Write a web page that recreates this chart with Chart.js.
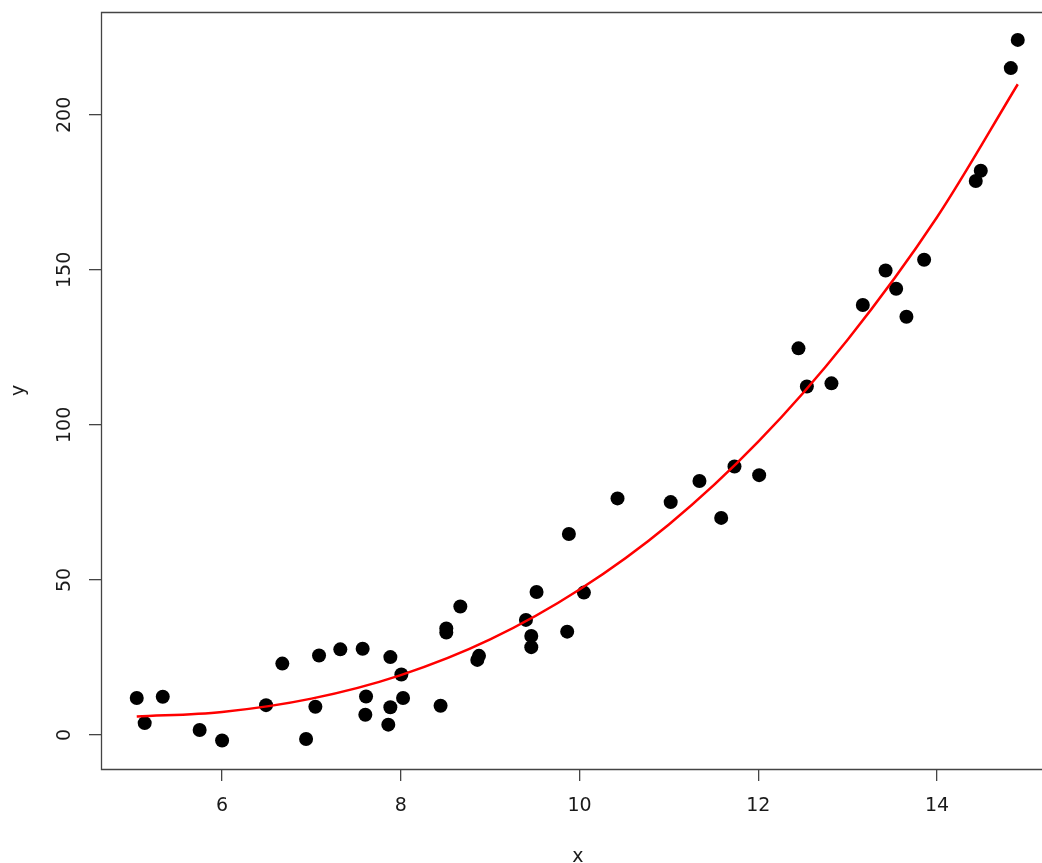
<!DOCTYPE html>
<html>
<head>
<meta charset="utf-8">
<script src="https://cdn.jsdelivr.net/npm/chart.js@4"></script>
<style>
html,body{margin:0;padding:0;background:#fff;overflow:hidden;width:1042px;height:863px;}
canvas{display:block;}
</style>
</head>
<body>
<canvas id="c" width="1062" height="863"></canvas>
<script>
// Observed points
const xValues = [5.045,5.134,5.336,5.749,6.000,6.492,6.674,6.940,7.044,7.085,
  7.323,7.573,7.611,7.603,7.860,7.883,7.883,8.006,8.025,8.445,
  8.509,8.509,8.666,8.856,8.875,9.400,9.460,9.460,9.519,9.862,
  9.881,10.049,10.425,11.020,11.342,11.585,11.734,12.010,12.450,12.544,
  12.819,13.170,13.425,13.543,13.658,13.856,14.434,14.490,14.826,14.904];
const yValues = [11.9,3.8,12.3,1.6,-1.8,9.6,23.0,-1.3,9.1,25.6,
  27.6,27.8,12.4,6.5,3.3,25.1,8.9,19.5,11.9,9.4,
  34.3,33.0,41.4,24.2,25.5,37.1,31.9,28.3,46.1,33.3,
  64.8,45.9,76.3,75.1,81.9,70.0,86.6,83.8,124.7,112.4,
  113.4,138.7,149.8,143.9,134.9,153.3,178.7,182.0,215.1,224.2];
// Fitted curve
const curveX = [5.045,6,7,8,9,10,11,12,13,14,14.904];
const curveY = [5.9,7.4,11.7,19.3,30.8,46.9,67.9,94.6,127.5,167.0,209.9];
// Tick labels
const xTicks = [6,8,10,12,14];
const yTicks = [0,50,100,150,200];
const xTitle = 'x';
const yTitle = 'y';

const FONT = '"DejaVu Sans", sans-serif';
const TXT = '#1a1a1a';
const AX = '#444';

const points = xValues.map((x,i)=>({x, y:yValues[i]}));
const curve = curveX.map((x,i)=>({x, y:curveY[i]}));

const framePlugin = {
  id:'frame',
  beforeDatasetsDraw(chart){
    const {ctx, chartArea:a} = chart;
    ctx.save();
    ctx.strokeStyle = AX;
    ctx.lineWidth = 1.3;
    ctx.beginPath();
    ctx.moveTo(a.right+4, a.top+0.5);
    ctx.lineTo(a.left+0.5, a.top+0.5);
    ctx.lineTo(a.left+0.5, a.bottom+0.5);
    ctx.lineTo(a.right+4, a.bottom+0.5);
    ctx.stroke();
    ctx.restore();
  },
  afterDraw(chart){
    const {ctx} = chart;
    const ys = chart.scales.y;
    ctx.save();
    ctx.fillStyle = TXT;
    ctx.font = '19px ' + FONT;
    ctx.textAlign = 'center';
    ctx.textBaseline = 'middle';
    ys.ticks.forEach(t=>{
      const py = ys.getPixelForValue(t.value);
      ctx.save();
      ctx.translate(65.5, py);
      ctx.rotate(-Math.PI/2);
      ctx.fillText(String(t.value), 0, 0);
      ctx.restore();
    });
    ctx.restore();
  }
};

new Chart(document.getElementById('c'), {
  type:'scatter',
  data:{
    datasets:[
      {
        type:'line',
        data:curve,
        borderColor:'#ff0000',
        borderWidth:2.5,
        pointRadius:0,
        fill:false,
        cubicInterpolationMode:'monotone',
        order:0
      },
      {
        data:points,
        pointRadius:7,
        pointHoverRadius:7,
        backgroundColor:'#000',
        borderColor:'#000',
        borderWidth:0,
        order:1
      }
    ]
  },
  options:{
    responsive:false,
    animation:false,
    devicePixelRatio:1,
    layout:{padding:{left:0, top:12, right:7.5, bottom:0}},
    plugins:{legend:{display:false}, tooltip:{enabled:false}},
    scales:{
      x:{
        type:'linear',
        min:4.645, max:15.315,
        afterBuildTicks(s){ s.ticks = xTicks.map(v=>({value:v})); },
        afterFit(s){ s.height = 94; },
        border:{display:false},
        grid:{drawOnChartArea:false, drawTicks:true, tickLength:12, color:AX, lineWidth:1.3},
        ticks:{font:{family:FONT, size:19}, color:TXT, padding:14, maxRotation:0, minRotation:0},
        title:{display:true, text:xTitle, font:{family:FONT, size:19}, color:TXT, padding:{top:0,bottom:-5}}
      },
      y:{
        type:'linear',
        min:-11.0, max:233.2,
        afterBuildTicks(s){ s.ticks = yTicks.map(v=>({value:v})); },
        afterFit(s){ s.width = 101; },
        border:{display:false},
        grid:{drawOnChartArea:false, drawTicks:true, tickLength:12, color:AX, lineWidth:1.3},
        ticks:{display:false},
        title:{display:true, text:yTitle, font:{family:FONT, size:19}, color:TXT, padding:{top:8,bottom:0}}
      }
    }
  },
  plugins:[framePlugin]
});
</script>
</body>
</html>
